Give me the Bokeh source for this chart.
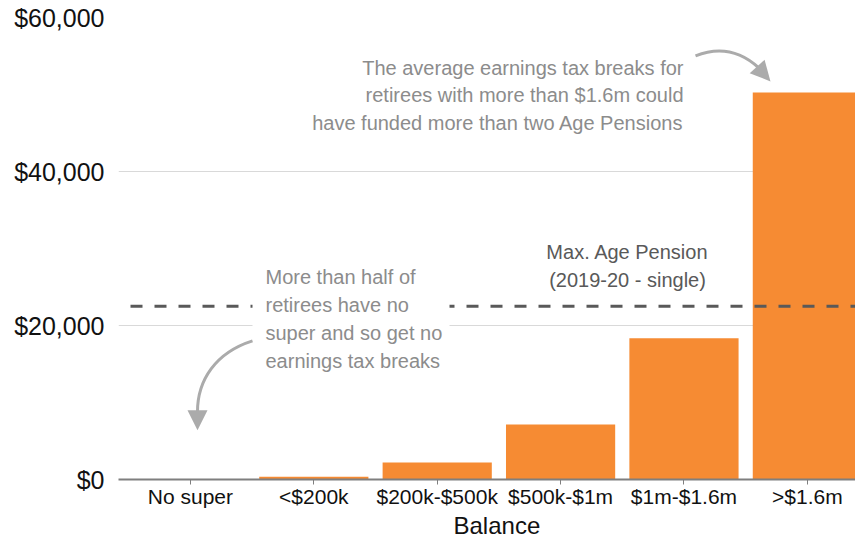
from bokeh.plotting import figure
from bokeh.models import (Range1d, FixedTicker, NumeralTickFormatter, Arrow,
                          NormalHead, Title)
from bokeh.core.properties import value
from bokeh.embed import file_html
from bokeh.resources import INLINE

# ---- data ----
categories = ["No super", "<$200k", "$200k-$500k", "$500k-$1m", "$1m-$1.6m", ">$1.6m"]
tax_breaks = [0, 350, 2200, 7150, 18350, 50250]
max_pension = 22500
y_ticks = [0, 20000, 40000, 60000]

FONT = "Liberation Sans"
ORANGE = "#F68B33"
GREY_TXT = "#8c8c8c"
DARK_TXT = "#595959"
ARROW_C = "#ababab"

# reference geometry (pixels) used to convert annotation positions to data units
FL, FT, FW, FH = 118, 21, 745, 470
X0, X1_REF = -0.083, 5.955
Y0, Y1 = 0, 60000
X1 = X0 + (855 - 118) / FW * (X1_REF - X0)

def px2x(px):
    return X0 + (px - FL) / FW * (X1_REF - X0)

def px2y(py):
    return Y0 + (FT + FH - py) / FH * (Y1 - Y0)

xs = [i + 0.5 for i in range(len(categories))]

p = figure(width=855, height=538, output_backend="svg", toolbar_location=None,
           x_range=Range1d(X0, X1), y_range=Range1d(Y0, Y1),
           min_border_left=118, min_border_right=0, min_border_top=17,
           min_border_bottom=0)
p.outline_line_color = None
p.background_fill_color = "white"

p.vbar(x=xs, top=tax_breaks, width=0.885, bottom=0, fill_color=ORANGE,
       line_color=None)

# dashed pension line
p.segment(x0=[px2x(130)], x1=[X1], y0=[max_pension], y1=[max_pension],
          line_color=DARK_TXT, line_width=3, line_dash="12 12")

# white box behind left annotation
p.quad(left=[px2x(252)], right=[px2x(449)], top=[px2y(268)], bottom=[px2y(388)],
       fill_color="white", line_color=None)

# annotation texts
left_lines = ["More than half of", "retirees have no", "super and so get no",
              "earnings tax breaks"]
left_py = [285, 313, 342, 370]
p.text(x=[px2x(265)] * 4, y=[px2y(v) for v in left_py], text=left_lines,
       text_font=value(FONT), text_font_size="20px", text_color=GREY_TXT,
       text_align="left", text_baseline="middle")

right_lines = ["The average earnings tax breaks for",
               "retirees with more than $1.6m could",
               "have funded more than two Age Pensions"]
right_py = [72, 100, 128]
p.text(x=[px2x(683)] * 3, y=[px2y(v) for v in right_py], text=right_lines,
       text_font=value(FONT), text_font_size="20px", text_color=GREY_TXT,
       text_align="right", text_baseline="middle")

pen_lines = ["Max. Age Pension", "(2019-20 - single)"]
pen_py = [260, 288]
p.text(x=[px2x(627)] * 2, y=[px2y(v) for v in pen_py], text=pen_lines,
       text_font=value(FONT), text_font_size="20px", text_color=DARK_TXT,
       text_align="center", text_baseline="middle")

# curved arrows
p.bezier(x0=[px2x(252)], y0=[px2y(350)], x1=[px2x(197)], y1=[px2y(422)],
         cx0=[px2x(215)], cy0=[px2y(362)], cx1=[px2x(197)], cy1=[px2y(390)],
         line_color=ARROW_C, line_width=3)
p.add_layout(Arrow(end=NormalHead(size=20, fill_color=ARROW_C, line_color=None),
                   x_start=px2x(197), y_start=px2y(418),
                   x_end=px2x(197), y_end=px2y(441),
                   line_color=ARROW_C, line_width=0))

p.quadratic(x0=[px2x(695)], y0=[px2y(60)], x1=[px2x(758)], y1=[px2y(72)],
            cx=[px2x(730)], cy=[px2y(46)], line_color=ARROW_C, line_width=3)
p.add_layout(Arrow(end=NormalHead(size=20, fill_color=ARROW_C, line_color=None),
                   x_start=px2x(755), y_start=px2y(69),
                   x_end=px2x(770), y_end=px2y(86),
                   line_color=ARROW_C, line_width=0))

# axes
p.yaxis.ticker = FixedTicker(ticks=y_ticks)
p.yaxis.formatter = NumeralTickFormatter(format="$0,0")
p.yaxis.axis_line_color = None
p.yaxis.major_tick_line_color = None
p.yaxis.minor_tick_line_color = None
p.yaxis.major_label_text_font = FONT
p.yaxis.major_label_text_font_size = "25px"
p.yaxis.major_label_text_color = "#111111"
p.yaxis.major_label_standoff = 8

p.xaxis.ticker = FixedTicker(ticks=xs)
p.xaxis.major_label_overrides = {x: c for x, c in zip(xs, categories)}
p.xaxis.axis_line_color = "#7f7f7f"
p.xaxis.axis_line_width = 2
p.xaxis.major_tick_line_color = "#7f7f7f"
p.xaxis.major_tick_in = 0
p.xaxis.major_tick_out = 5
p.xaxis.minor_tick_line_color = None
p.xaxis.major_label_text_font = FONT
p.xaxis.major_label_text_font_size = "21px"
p.xaxis.major_label_text_color = "#111111"
p.xaxis.major_label_text_line_height = 1.0
p.xaxis.major_label_standoff = 0

p.xgrid.grid_line_color = None
p.ygrid.ticker = FixedTicker(ticks=y_ticks)
p.ygrid.grid_line_color = "#d9d9d9"
p.ygrid.grid_line_width = 1

p.add_layout(Title(text="Balance", align="left", offset=335, standoff=-1,
                   text_font=FONT, text_font_size="24px", text_font_style="normal",
                   text_color="#111111", text_line_height=1.0), "below")

open("out.html", "w").write(file_html(p, INLINE))
